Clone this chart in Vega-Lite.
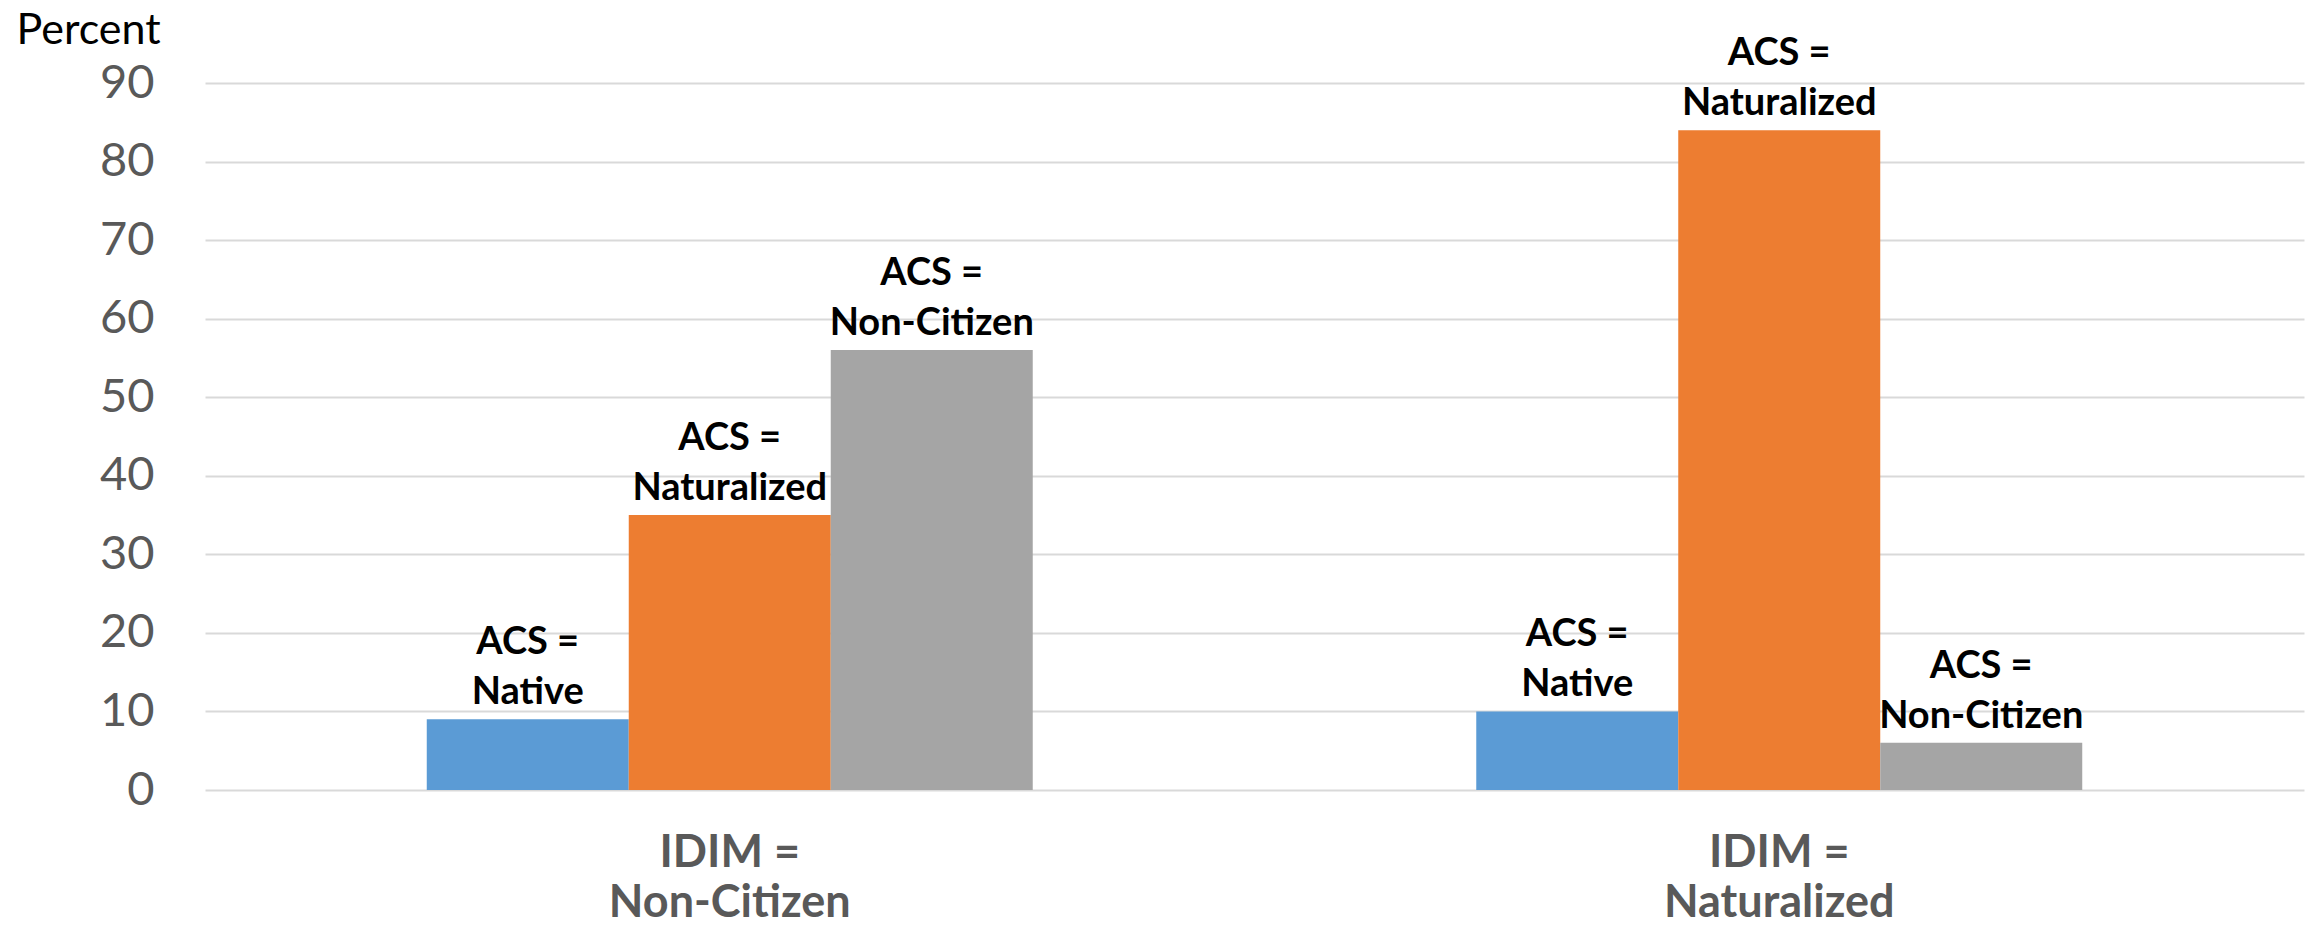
{
  "$schema": "https://vega.github.io/schema/vega-lite/v6.json",
  "width": 2099,
  "height": 707,
  "autosize": {"type": "none"},
  "padding": {"left": 205, "top": 83, "right": 12, "bottom": 137},
  "background": "white",
  "config": {"view": {"stroke": null}, "font": "Lato"},
  "data": {
    "values": [
      {"idim": "Non-Citizen", "acs": "Native", "value": 9},
      {"idim": "Non-Citizen", "acs": "Naturalized", "value": 35},
      {"idim": "Non-Citizen", "acs": "Non-Citizen", "value": 56},
      {"idim": "Naturalized", "acs": "Native", "value": 10},
      {"idim": "Naturalized", "acs": "Naturalized", "value": 84},
      {"idim": "Naturalized", "acs": "Non-Citizen", "value": 6}
    ]
  },
  "encoding": {
    "x": {
      "field": "idim",
      "type": "nominal",
      "sort": ["Non-Citizen", "Naturalized"],
      "scale": {"paddingInner": 0.4226, "paddingOuter": 0.2113},
      "axis": {
        "title": null,
        "labelAngle": 0,
        "labelExpr": "['IDIM =', datum.label]",
        "labelFontSize": 45,
        "labelFontWeight": "bold",
        "labelColor": "#595959",
        "labelLineHeight": 50,
        "labelBaseline": "top",
        "labelPadding": 40,
        "labelLimit": 0,
        "domain": false,
        "ticks": false,
        "tickSize": 0,
        "grid": false
      }
    },
    "xOffset": {
      "field": "acs",
      "type": "nominal",
      "sort": ["Native", "Naturalized", "Non-Citizen"],
      "scale": {"paddingInner": 0, "paddingOuter": 0}
    },
    "y": {
      "field": "value",
      "type": "quantitative",
      "scale": {"domain": [0, 90], "nice": false},
      "axis": {
        "values": [0, 10, 20, 30, 40, 50, 60, 70, 80, 90],
        "title": "Percent",
        "titleAngle": 0,
        "titleAlign": "left",
        "titleBaseline": "alphabetic",
        "titleX": -189,
        "titleY": -40,
        "titleFontSize": 43,
        "titleFontWeight": "normal",
        "titleColor": "#000000",
        "labelFontSize": 47,
        "labelColor": "#595959",
        "labelPadding": 51,
        "domain": false,
        "ticks": false,
        "tickSize": 0,
        "grid": true,
        "gridColor": "#d9d9d9",
        "gridWidth": 2
      }
    }
  },
  "layer": [
    {
      "mark": {"type": "bar"},
      "encoding": {
        "color": {
          "field": "acs",
          "type": "nominal",
          "scale": {"domain": ["Native", "Naturalized", "Non-Citizen"], "range": ["#5b9bd5", "#ed7d31", "#a5a5a5"]},
          "legend": null
        }
      }
    },
    {
      "mark": {"type": "text", "text": "ACS =", "fontSize": 38, "fontWeight": "bold", "color": "#000000", "baseline": "alphabetic", "align": "center", "dy": -65}
    },
    {
      "mark": {"type": "text", "fontSize": 38, "fontWeight": "bold", "color": "#000000", "baseline": "alphabetic", "align": "center", "dy": -15},
      "encoding": {"text": {"field": "acs"}}
    }
  ]
}
